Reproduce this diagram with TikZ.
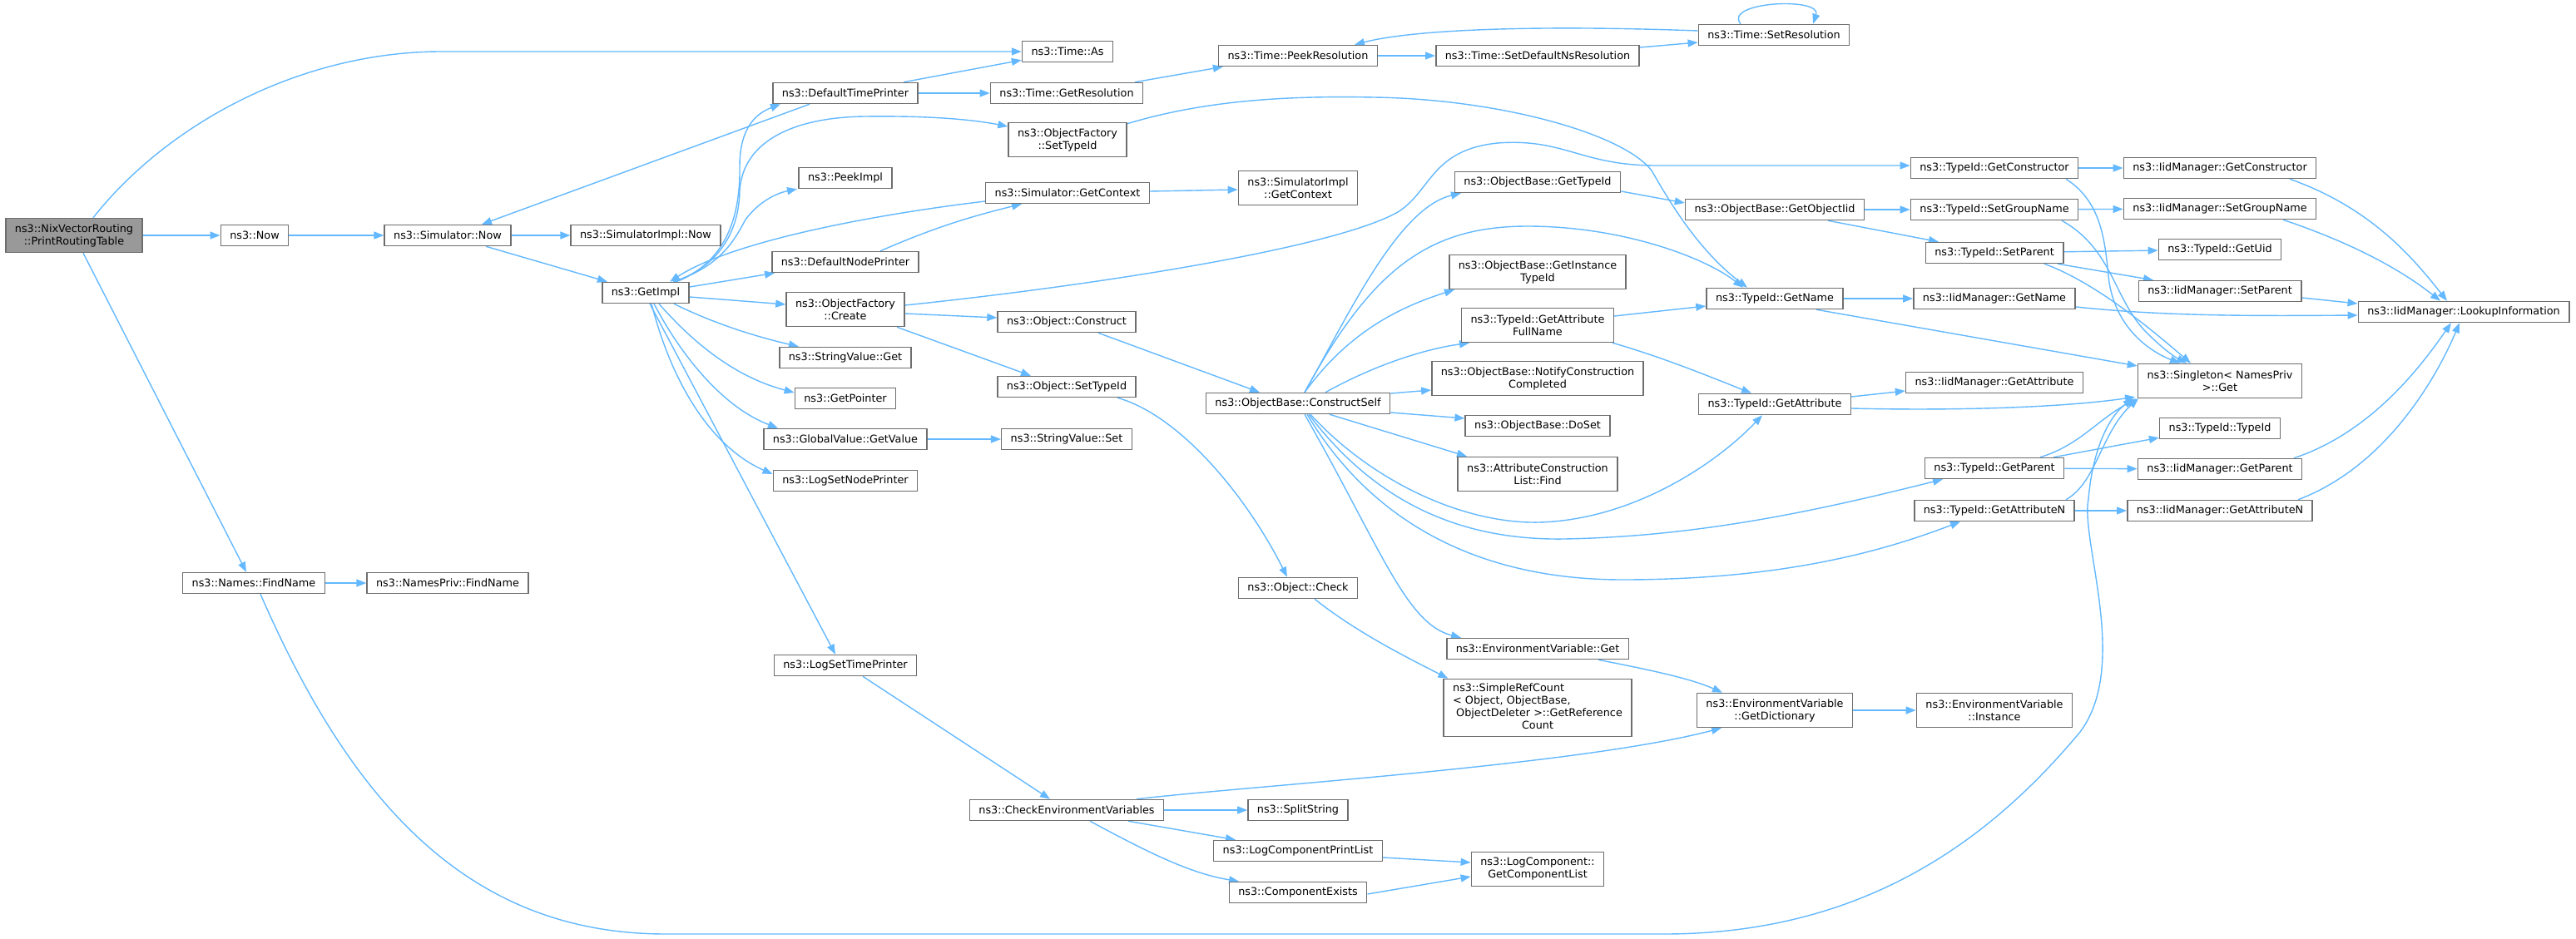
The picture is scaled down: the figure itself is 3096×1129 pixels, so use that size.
\documentclass[tikz,border=0pt]{standalone}
\usepackage{fontspec}
\setmainfont{DejaVu Sans}
\usetikzlibrary{arrows.meta}
\pgfdeclarelayer{edges}
\pgfsetlayers{edges,main}
\definecolor{edgeblue}{HTML}{63B8FF}
\definecolor{boxline}{HTML}{6E6E6E}
\definecolor{rootfill}{HTML}{999999}
\newcommand{\fnfont}{\fontsize{12.8}{15}\selectfont}

\begin{document}
\begin{tikzpicture}[x=1pt,y=-1pt,
   fn/.style={draw=boxline, fill=white, line width=1.5pt, inner xsep=11pt, inner ysep=2pt,
              minimum height=25pt, font=\fnfont, align=center},
   fntwo/.style={fn, minimum height=41pt},
   root/.style={fntwo, fill=rootfill},
   call/.style={draw=edgeblue, line width=1.4pt, -{Triangle[length=12pt,width=9pt]}}]
   \useasboundingbox (0,0) rectangle (3096,1129);

   \node[root]  (prt)           at (  89, 283) {ns3::NixVectorRouting\\::PrintRoutingTable};
   \node[fn]    (now)           at ( 306, 283) {ns3::Now};
   \node[fn]    (simnow)        at ( 538, 283) {ns3::Simulator::Now};
   \node[fn]    (simimplnow)    at ( 776, 283) {ns3::SimulatorImpl::Now};
   \node[fn]    (getimpl)       at ( 776, 352) {ns3::GetImpl};
   \node[fn]    (names)         at ( 305, 701) {ns3::Names::FindName};
   \node[fn]    (namespriv)     at ( 538, 701) {ns3::NamesPriv::FindName};
   \node[fn]    (deftime)       at (1016, 112) {ns3::DefaultTimePrinter};
   \node[fn]    (peekimpl)      at (1016, 214) {ns3::PeekImpl};
   \node[fn]    (defnode)       at (1016, 315) {ns3::DefaultNodePrinter};
   \node[fntwo] (ofcreate)      at (1016, 372) {ns3::ObjectFactory\\::Create};
   \node[fn]    (svget)         at (1016, 430) {ns3::StringValue::Get};
   \node[fn]    (getptr)        at (1016, 479) {ns3::GetPointer};
   \node[fn]    (gvget)         at (1016, 528) {ns3::GlobalValue::GetValue};
   \node[fn]    (lognode)       at (1016, 578) {ns3::LogSetNodePrinter};
   \node[fn]    (logtime)       at (1016, 800) {ns3::LogSetTimePrinter};
   \node[fn]    (timeas)        at (1283,  62) {ns3::Time::As};
   \node[fn]    (getres)        at (1282, 112) {ns3::Time::GetResolution};
   \node[fntwo] (ofsettype)     at (1283, 168) {ns3::ObjectFactory\\::SetTypeId};
   \node[fn]    (simctx)        at (1283, 232) {ns3::Simulator::GetContext};
   \node[fn]    (construct)     at (1282, 387) {ns3::Object::Construct};
   \node[fn]    (settype)       at (1282, 465) {ns3::Object::SetTypeId};
   \node[fn]    (svset)         at (1282, 528) {ns3::StringValue::Set};
   \node[fn]    (checkenv)      at (1282, 974) {ns3::CheckEnvironmentVariables};
   \node[fn]    (peekres)       at (1560,  67) {ns3::Time::PeekResolution};
   \node[fntwo] (implctx)       at (1560, 226) {ns3::SimulatorImpl\\::GetContext};
   \node[fn]    (constructself) at (1560, 485) {ns3::ObjectBase::ConstructSelf};
   \node[fn]    (check)         at (1560, 707) {ns3::Object::Check};
   \node[fn]    (split)         at (1560, 974) {ns3::SplitString};
   \node[fn]    (logprint)      at (1560,1023) {ns3::LogComponentPrintList};
   \node[fn]    (compexists)    at (1560,1073) {ns3::ComponentExists};
   \node[fn]    (setdefns)      at (1848,  67) {ns3::Time::SetDefaultNsResolution};
   \node[fn]    (obgettype)     at (1848, 219) {ns3::ObjectBase::GetTypeId};
   \node[fntwo] (instance)      at (1848, 327) {ns3::ObjectBase::GetInstance\\TypeId};
   \node[fntwo] (fullname)      at (1848, 391) {ns3::TypeId::GetAttribute\\FullName};
   \node[fntwo] (notify)        at (1848, 455) {ns3::ObjectBase::NotifyConstruction\\Completed};
   \node[fn]    (doset)         at (1848, 512) {ns3::ObjectBase::DoSet};
   \node[fntwo] (find)          at (1848, 570) {ns3::AttributeConstruction\\List::Find};
   \node[fn]    (envget)        at (1848, 780) {ns3::EnvironmentVariable::Get};
   \node[fn, minimum height=69pt] (refcount) at (1848, 851)
      {\begin{tabular}{@{}l@{}}ns3::SimpleRefCount\\< Object, ObjectBase,\\\ ObjectDeleter >::GetReference\\\multicolumn{1}{@{}c@{}}{Count}\end{tabular}};
   \node[fntwo] (complist)      at (1848,1045) {ns3::LogComponent::\\GetComponentList};
   \node[fn]    (setres)        at (2132,  42) {ns3::Time::SetResolution};
   \node[fn]    (objiid)        at (2133, 252) {ns3::ObjectBase::GetObjectIid};
   \node[fn]    (getname)       at (2133, 359) {ns3::TypeId::GetName};
   \node[fn]    (getattr)       at (2133, 486) {ns3::TypeId::GetAttribute};
   \node[fntwo] (dict)          at (2133, 854) {ns3::EnvironmentVariable\\::GetDictionary};
   \node[fn]    (tgetctor)      at (2397, 202) {ns3::TypeId::GetConstructor};
   \node[fn]    (tsetgroup)     at (2397, 252) {ns3::TypeId::SetGroupName};
   \node[fn]    (tsetparent)    at (2397, 304) {ns3::TypeId::SetParent};
   \node[fn]    (igetname)      at (2397, 359) {ns3::IidManager::GetName};
   \node[fn]    (igetattr)      at (2397, 460) {ns3::IidManager::GetAttribute};
   \node[fn]    (tgetparent)    at (2397, 563) {ns3::TypeId::GetParent};
   \node[fn]    (tgetattrn)     at (2397, 614) {ns3::TypeId::GetAttributeN};
   \node[fntwo] (envinst)       at (2397, 854) {ns3::EnvironmentVariable\\::Instance};
   \node[fn]    (igetctor)      at (2668, 202) {ns3::IidManager::GetConstructor};
   \node[fn]    (isetgroup)     at (2668, 251) {ns3::IidManager::SetGroupName};
   \node[fn]    (getuid)        at (2668, 300) {ns3::TypeId::GetUid};
   \node[fn]    (isetparent)    at (2668, 350) {ns3::IidManager::SetParent};
   \node[fntwo] (singleton)     at (2668, 458) {ns3::Singleton< NamesPriv\\>::Get};
   \node[fn]    (typeid)        at (2668, 515) {ns3::TypeId::TypeId};
   \node[fn]    (igetparent)    at (2668, 564) {ns3::IidManager::GetParent};
   \node[fn]    (igetattrn)     at (2668, 614) {ns3::IidManager::GetAttributeN};
   \node[fn]    (lookup)        at (2961, 375) {ns3::IidManager::LookupInformation};

   \begin{pgfonlayer}{edges}
   \draw[call] ([xshift=23]prt.north) .. controls (200,150) and (360,62) .. (531,62) -- (timeas.west);
   \draw[call] (prt) -- (now);
   \draw[call] ([xshift=11]prt.south) -- ([xshift=-9]names.north);
   \draw[call] (now) -- (simnow);
   \draw[call] (simnow) -- (simimplnow);
   \draw[call] ([xshift=46]simnow.south) -- ([xshift=-46]getimpl.north);
   \draw[call] ([xshift=-43]deftime.south) -- ([xshift=41]simnow.north);
   \draw[call] ([xshift=70]deftime.north) -- ([yshift=3]timeas.south west);
   \draw[call] (deftime) -- (getres);
   \draw[call] ([xshift=37]getimpl.north) .. controls (872,315) and (890,262) .. (889,200)
                .. controls (889,152) and (910,136) .. ([xshift=-78]deftime.south);
   \draw[call] ([xshift=35]getimpl.north) .. controls (870,317) and (888,272) .. (889,230)
                .. controls (892,172) and (950,141) .. (1040,140)
                .. controls (1120,139) and (1170,144) .. ([yshift=16]ofsettype.west);
   \draw[call] ([xshift=33]getimpl.north) .. controls (866,320) and (882,290) .. (896,264)
                .. controls (910,245) and (930,233) .. ([xshift=-58]peekimpl.south);
   \draw[call] ([yshift=-10]simctx.west) .. controls (1050,258) and (880,290) .. ([xshift=29]getimpl.north);
   \draw[call] ([xshift=42]defnode.north) .. controls (1120,275) and (1160,262) .. ([xshift=-55]simctx.south);
   \draw[call] ([yshift=7]getimpl.east) -- ([xshift=4]defnode.south west);
   \draw[call] ([yshift=-5]getimpl.east) -- ([yshift=6]ofcreate.west);
   \draw[call] ([xshift=34]getimpl.south) .. controls (860,390) and (910,405) .. ([xshift=-56]svget.north);
   \draw[call] ([xshift=16]getimpl.south) .. controls (840,420) and (890,455) .. ([yshift=7]getptr.west);
   \draw[call] ([xshift=10]getimpl.south) .. controls (820,430) and (870,490) .. ([xshift=-81]gvget.north);
   \draw[call] ([xshift=7]getimpl.south) .. controls (810,470) and (860,540) .. ([yshift=8]lognode.west);
   \draw[call] ([xshift=5]getimpl.south) -- ([xshift=-12]logtime.north);
   \draw[call] ([xshift=82]getres.north) -- ([xshift=6]peekres.south west);
   \draw[call] (peekres) -- (setdefns);
   \draw[call] ([yshift=10]setdefns.east) -- ([yshift=-9]setres.west);
   \draw[call] ([yshift=5]setres.west) .. controls (1850,30) and (1700,35) .. ([xshift=68]peekres.north);
   \draw[call] ([xshift=-40]setres.north) .. controls (2070,2) and (2190,-4) .. ([xshift=47]setres.north);
   \draw[call] ([yshift=-2]ofsettype.north east) .. controls (1450,120) and (1550,115) .. (1651,117)
                .. controls (1800,119) and (1950,160) .. (1985,205)
                .. controls (2005,240) and (2040,300) .. ([xshift=-33]getname.north);
   \draw[call] ([yshift=2]simctx.east) -- ([yshift=-2]implctx.west);
   \draw[call] ([yshift=5]ofcreate.east) .. controls (1300,345) and (1600,300) .. (1680,255)
                .. controls (1720,230) and (1720,180) .. (1800,172)
                .. controls (1880,166) and (1900,199) .. (1990,199) -- ([yshift=3]tgetctor.west);
   \draw[call] ([yshift=-5]ofcreate.east) -- ([yshift=5]construct.west);
   \draw[call] ([xshift=62]ofcreate.south) -- ([xshift=-43]settype.north);
   \draw[call] ([xshift=38]construct.south) -- ([xshift=-46]constructself.north);
   \draw[call] ([xshift=61]settype.south) .. controls (1420,500) and (1500,600) .. ([xshift=-13]check.north);
   \draw[call] (gvget) -- (svset);
   \draw[call] ([xshift=20]check.south) .. controls (1630,760) and (1690,790) .. ([xshift=6]refcount.north west);
   \draw[call] ([xshift=21]logtime.south) -- ([xshift=-20]checkenv.north);
   \draw[call] ([xshift=84]checkenv.north) .. controls (1500,945) and (1900,920) .. ([xshift=-64]dict.south);
   \draw[call] (checkenv) -- (split);
   \draw[call] ([xshift=74]checkenv.south) -- ([xshift=-75]logprint.north);
   \draw[call] ([xshift=28]checkenv.south) .. controls (1380,1025) and (1430,1050) .. ([xshift=-71]compexists.north);
   \draw[call] ([yshift=-8]logprint.east) -- ([yshift=8]complist.west);
   \draw[call] ([yshift=-2]compexists.east) -- ([yshift=-9]complist.west);
   \draw[call] ([xshift=8]constructself.north) .. controls (1620,380) and (1680,250) .. ([xshift=-92]obgettype.south);
   \draw[call] ([xshift=8]constructself.north) .. controls (1650,320) and (1720,272) .. (1836,272)
                .. controls (1950,272) and (2050,310) .. ([xshift=-38]getname.north);
   \draw[call] ([xshift=8]constructself.north) .. controls (1620,400) and (1680,370) .. ([xshift=-100]instance.south);
   \draw[call] ([xshift=33]constructself.north) .. controls (1650,440) and (1710,420) .. ([xshift=-82]fullname.south);
   \draw[call] ([yshift=12]constructself.east) -- ([yshift=-14]notify.west);
   \draw[call] ([yshift=-11]constructself.east) -- ([yshift=9]doset.west);
   \draw[call] ([xshift=38]constructself.south) -- ([xshift=-85]find.north);
   \draw[call] ([xshift=15]constructself.south) .. controls (1650,580) and (1760,630) .. (1850,628)
                .. controls (1960,625) and (2060,560) .. ([xshift=-15]getattr.south);
   \draw[call] ([xshift=13]constructself.south) .. controls (1650,600) and (1750,650) .. (1880,648)
                .. controls (2050,645) and (2200,610) .. ([xshift=-62]tgetparent.south);
   \draw[call] ([xshift=11]constructself.south) .. controls (1650,630) and (1780,697) .. (1950,697)
                .. controls (2150,697) and (2270,660) .. ([xshift=-41]tgetattrn.south);
   \draw[call] ([xshift=8]constructself.south) .. controls (1660,660) and (1690,750) .. ([xshift=-92]envget.north);
   \draw[call] ([yshift=-11]obgettype.east) -- ([yshift=8]objiid.west);
   \draw[call] (objiid) -- (tsetgroup);
   \draw[call] ([xshift=64]objiid.south) -- ([xshift=-67]tsetparent.north);
   \draw[call] ([yshift=11]fullname.east) -- ([yshift=-9]getname.west);
   \draw[call] ([xshift=90]fullname.south) .. controls (2000,430) and (2060,455) .. ([xshift=-28]getattr.north);
   \draw[call] (getname) -- (igetname);
   \draw[call] ([xshift=50]getname.south) -- ([yshift=18]singleton.west);
   \draw[call] ([yshift=9]getattr.east) -- ([yshift=-10]igetattr.west);
   \draw[call] ([yshift=-5]getattr.east) .. controls (2350,494) and (2480,490) .. ([xshift=-102,yshift=2]singleton.south);
   \draw[call] (dict) -- (envinst);
   \draw[call] ([xshift=73]envget.south) .. controls (1980,805) and (2030,815) .. ([xshift=-63]dict.north);
   \draw[call] (names) -- (namespriv);
   \draw[call] ([xshift=8]names.south) .. controls (420,960) and (560,1123) .. (800,1123) -- (2000,1123)
                .. controls (2250,1123) and (2400,1000) .. (2500,880)
                .. controls (2560,800) and (2500,650) .. (2510,600)
                .. controls (2515,540) and (2535,500) .. ([xshift=-104]singleton.south);
   \draw[call] (tgetctor) -- (igetctor);
   \draw[call] ([xshift=86]tgetctor.south) .. controls (2530,245) and (2530,300) .. (2535,340)
                .. controls (2545,400) and (2590,425) .. ([xshift=-48]singleton.north);
   \draw[call] (tsetgroup) -- (isetgroup);
   \draw[call] ([xshift=81]tsetgroup.south) .. controls (2540,300) and (2540,360) .. (2580,400)
                .. controls (2600,420) and (2615,430) .. ([xshift=-40]singleton.north);
   \draw[call] (tsetparent) -- (getuid);
   \draw[call] ([xshift=76]tsetparent.south) -- ([xshift=-80]isetparent.north);
   \draw[call] ([xshift=60]tsetparent.south) .. controls (2520,340) and (2590,400) .. ([xshift=-35]singleton.north);
   \draw[call] ([xshift=84]igetctor.south) .. controls (2850,250) and (2900,310) .. ([xshift=-20]lookup.north);
   \draw[call] ([xshift=76]isetgroup.south) .. controls (2820,290) and (2880,320) .. ([xshift=-28]lookup.north);
   \draw[call] ([yshift=-8]isetparent.east) -- ([yshift=10]lookup.west);
   \draw[call] ([yshift=-10]igetname.east) .. controls (2600,380) and (2700,380) .. ([yshift=-4]lookup.west);
   \draw[call] ([xshift=89]igetparent.north) .. controls (2850,520) and (2910,440) .. ([xshift=-15]lookup.south);
   \draw[call] ([xshift=94]igetattrn.north) .. controls (2870,560) and (2930,450) .. ([xshift=-5]lookup.south);
   \draw[call] ([xshift=55]tgetparent.north) .. controls (2500,535) and (2520,505) .. ([xshift=-100]singleton.south);
   \draw[call] ([xshift=71]tgetparent.north) -- ([yshift=2]typeid.south west);
   \draw[call] (tgetparent) -- (igetparent);
   \draw[call] (tgetattrn) -- (igetattrn);
   \draw[call] ([xshift=86]tgetattrn.north) .. controls (2520,580) and (2525,520) .. ([xshift=-98]singleton.south);
   \end{pgfonlayer}
\end{tikzpicture}
\end{document}
